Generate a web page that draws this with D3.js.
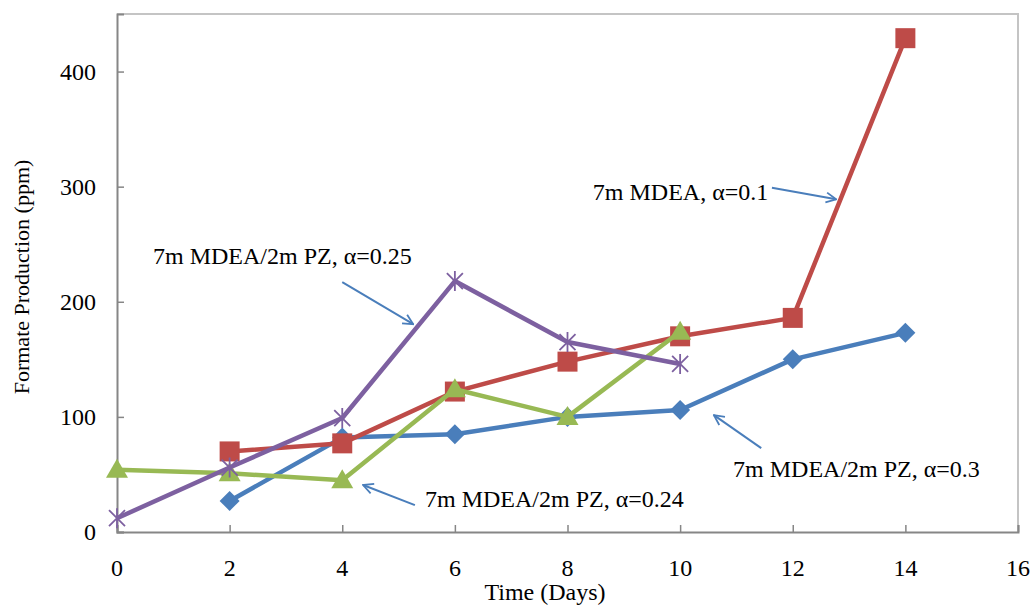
<!DOCTYPE html>
<html>
<head>
<meta charset="utf-8">
<script src="https://cdn.jsdelivr.net/npm/d3@7"></script>
<style>
body { margin: 0; background: #fff; }
text { font-family: "Liberation Serif", "Times New Roman", serif; fill: #000; }
</style>
</head>
<body>
<svg id="chart" width="1032" height="606"></svg>
<script>
// DATA
var days = [0, 2, 4, 6, 8, 10, 12, 14];
var xTicks = [0, 2, 4, 6, 8, 10, 12, 14, 16];
var yTicks = [0, 100, 200, 300, 400];

var pz03 = [null, 27, 82, 85, 100, 106, 150, 173];      // 7m MDEA/2m PZ, a=0.3
var mdea01 = [null, 70, 77, 122, 148, 170, 186, 429];   // 7m MDEA, a=0.1
var pz024 = [54, 51, 45, 124, 100, 174, null, null];    // 7m MDEA/2m PZ, a=0.24
var pz025 = [12, 56, 99, 218, 165, 146, null, null];    // 7m MDEA/2m PZ, a=0.25

var seriesNames = ['pz03', 'mdea01', 'pz024', 'pz025'];
var seriesVals = [pz03, mdea01, pz024, pz025];
var seriesCols = ['#4a7ebb', '#be4b48', '#98b954', '#7d60a0'];
var seriesMarks = ['diamond', 'square', 'triangle', 'star'];

// annotations: label, text anchor (day, ppm), arrow from/to (day, ppm)
var noteText = ['7m MDEA, \u03b1=0.1', '7m MDEA/2m PZ, \u03b1=0.25', '7m MDEA/2m PZ, \u03b1=0.24', '7m MDEA/2m PZ, \u03b1=0.3'];
var noteAt = [[8.45, 288], [0.64, 233], [5.47, 22], [10.94, 48]];
var noteArrow = [[[11.63, 299], [12.77, 289]], [[4.0, 217], [5.26, 180.5]], [[5.29, 23.4], [4.37, 40.8]], [[11.44, 72.9], [10.60, 101.5]]];

// LAYOUT (window.top is taken, so prefixed names)
var pLeft = 117, pRight = 1018, pTop = 14, pBottom = 532;
var x = d3.scaleLinear().domain([0, 16]).range([pLeft, pRight]);
var y = d3.scaleLinear().domain([0, 450]).range([pBottom, pTop]);

var svg = d3.select('#chart');

// plot area frame
svg.append('path')
	.attr('d', 'M' + pLeft + ',' + pTop + 'H' + pRight + 'V' + pBottom)
	.attr('fill', 'none')
	.attr('stroke', '#c4c4c4')
	.attr('stroke-width', 2);

// axes
var yAxis = svg.append('g')
	.attr('transform', 'translate(' + pLeft + ',0)')
	.call(d3.axisRight(y).tickValues(yTicks).tickSize(7).tickFormat(''));
var xAxis = svg.append('g')
	.attr('transform', 'translate(0,' + pBottom + ')')
	.call(d3.axisTop(x).tickValues(xTicks).tickSize(7).tickFormat(''));
[yAxis, xAxis].forEach(function(a) {
	a.select('.domain').attr('stroke', '#868686').attr('stroke-width', 2);
	a.selectAll('.tick line').attr('stroke', '#868686').attr('stroke-width', 1.5);
});

svg.selectAll('.ylab')
	.data(yTicks)
	.enter().append('text')
	.attr('class', 'ylab')
	.attr('x', pLeft - 21)
	.attr('y', function(d) { return y(d); })
	.attr('dy', '0.35em')
	.attr('text-anchor', 'end')
	.style('font-size', '24px')
	.text(function(d) { return d; });

svg.selectAll('.xlab')
	.data(xTicks)
	.enter().append('text')
	.attr('class', 'xlab')
	.attr('x', function(d) { return x(d); })
	.attr('y', 576)
	.attr('text-anchor', 'middle')
	.style('font-size', '24px')
	.text(function(d) { return d; });

svg.append('text')
	.attr('x', 545)
	.attr('y', 600)
	.attr('text-anchor', 'middle')
	.style('font-size', '24px')
	.text('Time (Days)');

svg.append('text')
	.attr('transform', 'translate(29,' + ((pTop + pBottom) / 2 + 4) + ') rotate(-90)')
	.attr('text-anchor', 'middle')
	.style('font-size', '22px')
	.text('Formate Production (ppm)');

// markers
function markerPath(kind) {
	var p = d3.path();
	if (kind == 'diamond') {
		p.moveTo(0, -10); p.lineTo(10, 0); p.lineTo(0, 10); p.lineTo(-10, 0); p.closePath();
	} else if (kind == 'square') {
		p.rect(-10, -10, 20, 20);
	} else if (kind == 'triangle') {
		p.moveTo(0, -11); p.lineTo(11, 8); p.lineTo(-11, 8); p.closePath();
	} else {
		p.moveTo(-8, -8); p.lineTo(8, 8);
		p.moveTo(8, -8); p.lineTo(-8, 8);
		p.moveTo(0, -10); p.lineTo(0, 10);
	}
	return p.toString();
}

var line = d3.line()
	.defined(function(d) { return d[1] != null; })
	.x(function(d) { return x(d[0]); })
	.y(function(d) { return y(d[1]); });

seriesVals.forEach(function(vals, i) {
	var pts = days.map(function(d, j) { return [d, vals[j]]; });
	var g = svg.append('g').attr('class', 'series-' + seriesNames[i]);
	g.append('path')
		.attr('d', line(pts))
		.attr('fill', 'none')
		.attr('stroke', seriesCols[i])
		.attr('stroke-width', 4.5)
		.attr('stroke-linejoin', 'round');
	g.selectAll('.mk')
		.data(pts.filter(function(d) { return d[1] != null; }))
		.enter().append('path')
		.attr('class', 'mk')
		.attr('transform', function(d) { return 'translate(' + x(d[0]) + ',' + y(d[1]) + ')'; })
		.attr('d', markerPath(seriesMarks[i]))
		.attr('fill', seriesMarks[i] == 'star' ? 'none' : seriesCols[i])
		.attr('stroke', seriesMarks[i] == 'star' ? seriesCols[i] : 'none')
		.attr('stroke-width', 1.8);
});

// annotations
svg.append('defs').append('marker')
	.attr('id', 'arrow')
	.attr('viewBox', '0 0 12 12')
	.attr('refX', 11).attr('refY', 6)
	.attr('markerWidth', 12).attr('markerHeight', 12)
	.attr('markerUnits', 'userSpaceOnUse')
	.attr('orient', 'auto')
	.append('path')
	.attr('d', 'M1,1 L11,6 L1,11')
	.attr('fill', 'none')
	.attr('stroke', '#4a7ebb')
	.attr('stroke-width', 1.8);

noteArrow.forEach(function(a) {
	svg.append('line')
		.attr('x1', x(a[0][0])).attr('y1', y(a[0][1]))
		.attr('x2', x(a[1][0])).attr('y2', y(a[1][1]))
		.attr('stroke', '#4a7ebb')
		.attr('stroke-width', 2)
		.attr('marker-end', 'url(#arrow)');
});

svg.selectAll('.note')
	.data(noteText)
	.enter().append('text')
	.attr('class', 'note')
	.attr('x', function(d, i) { return x(noteAt[i][0]); })
	.attr('y', function(d, i) { return y(noteAt[i][1]); })
	.style('font-size', '24px')
	.text(function(d) { return d; });
</script>
</body>
</html>
